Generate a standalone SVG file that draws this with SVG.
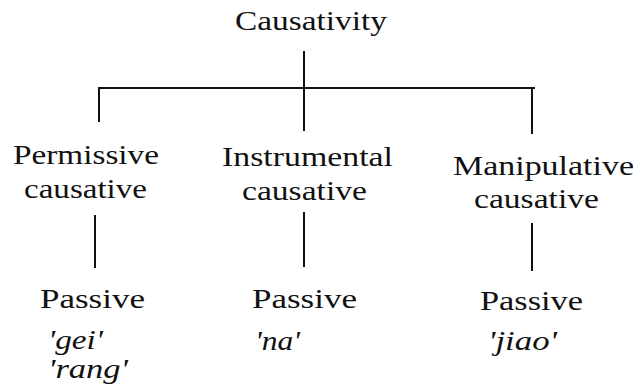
<svg xmlns="http://www.w3.org/2000/svg" width="636" height="387" viewBox="0 0 636 387">
  <style>
    .lbl { font-family: 'Liberation Serif', 'Times New Roman', serif; font-size: 27px; fill: #111; }
    .ex { font-style: italic; }
    .conn line { stroke: #111; stroke-width: 2; fill: none; }
  </style>
  <rect width="636" height="387" fill="#fff"/>

  <!-- tree branches -->
  <g id="connectors" class="conn">
    <line x1="304" y1="51" x2="304" y2="131"/>
    <line x1="99" y1="88" x2="535" y2="88"/>
    <line x1="99" y1="87" x2="99" y2="122"/>
    <line x1="532" y1="87" x2="532" y2="134"/>
    <line x1="95" y1="215" x2="95" y2="268"/>
    <line x1="304" y1="212" x2="304" y2="267"/>
    <line x1="532" y1="223" x2="532" y2="271"/>
  </g>

  <g class="lbl">
  <g id="root">
    <text x="235" y="30" textLength="152" lengthAdjust="spacingAndGlyphs">Causativity</text>
  </g>

  <g id="permissive">
    <text x="13" y="164" textLength="146" lengthAdjust="spacingAndGlyphs">Permissive</text>
    <text x="24" y="198" textLength="123" lengthAdjust="spacingAndGlyphs">causative</text>
  </g>

  <g id="instrumental">
    <text x="222" y="166" textLength="171" lengthAdjust="spacingAndGlyphs">Instrumental</text>
    <text x="242" y="200" textLength="125" lengthAdjust="spacingAndGlyphs">causative</text>
  </g>

  <g id="manipulative">
    <text x="453" y="175" textLength="181" lengthAdjust="spacingAndGlyphs">Manipulative</text>
    <text x="474" y="208" textLength="125" lengthAdjust="spacingAndGlyphs">causative</text>
  </g>

  <g id="passive-gei-rang">
    <text x="40" y="308" textLength="105" lengthAdjust="spacingAndGlyphs">Passive</text>
    <text class="ex" x="48" y="349" textLength="55" lengthAdjust="spacingAndGlyphs">'gei'</text>
    <text class="ex" x="48" y="378" textLength="80" lengthAdjust="spacingAndGlyphs">'rang'</text>
  </g>

  <g id="passive-na">
    <text x="252" y="308" textLength="105" lengthAdjust="spacingAndGlyphs">Passive</text>
    <text class="ex" x="255" y="350" textLength="45" lengthAdjust="spacingAndGlyphs">'na'</text>
  </g>

  <g id="passive-jiao">
    <text x="480" y="310" textLength="103" lengthAdjust="spacingAndGlyphs">Passive</text>
    <text class="ex" x="488" y="350" textLength="69" lengthAdjust="spacingAndGlyphs">'jiao'</text>
  </g>
  </g>
</svg>
